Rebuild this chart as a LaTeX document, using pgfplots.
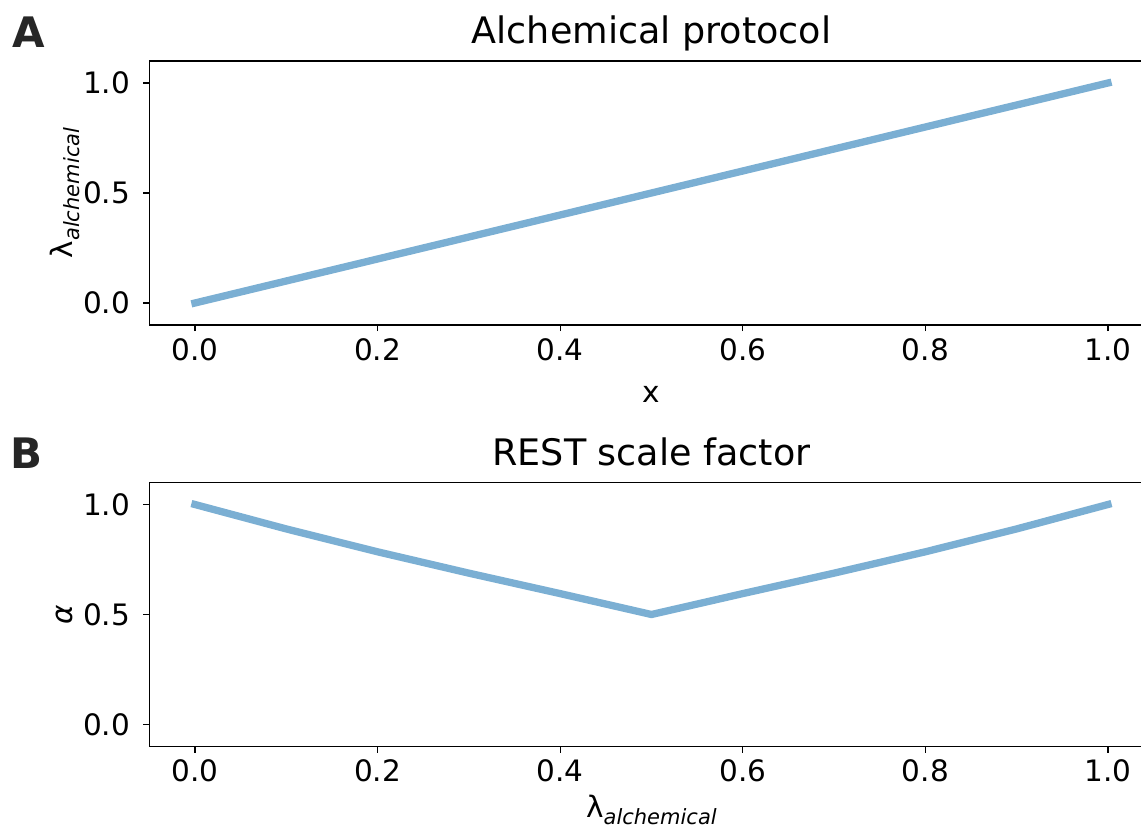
\documentclass[border=0pt]{standalone}
\usepackage{pgfplots}
\usepackage{pgfplotstable}
\pgfplotsset{compat=1.18}
\usepackage{fontspec}
\setmainfont{DejaVu Sans}
\definecolor{linec}{RGB}{123,175,211}
\definecolor{panel}{RGB}{38,38,38}
\newcommand{\fs}{\fontsize{29.5}{35}\selectfont}
\newcommand{\sub}[1]{\raisebox{-0.25em}{\fontsize{21}{25}\selectfont\itshape #1}}

\pgfplotstableread{
x y
0 0
1 1
}\tableA
\pgfplotstableread{
x y
0.0 1.0
0.1 0.889
0.2 0.785
0.3 0.688
0.4 0.595
0.5 0.5
0.6 0.595
0.7 0.688
0.8 0.785
0.9 0.889
1.0 1.0
}\tableB

\pgfplotsset{myax/.style={
  scale only axis, width=1004.3pt, height=264pt,
  xmin=-0.05, xmax=1.05, ymin=-0.1, ymax=1.1,
  xtick={0,0.2,0.4,0.6,0.8,1.0}, ytick={0,0.5,1.0},
  tick pos=left,
  tick align=outside, major tick length=6pt,
  every tick/.style={black, line width=1.3pt},
  axis line style={line width=1.3pt},
  /pgf/number format/assume math mode=true,
  /pgf/number format/fixed, /pgf/number format/fixed zerofill, /pgf/number format/precision=1,
  tick label style={font=\fs},
  xticklabel style={anchor=north, inner sep=0pt, yshift=-7pt},
  yticklabel style={anchor=east, inner sep=0pt, xshift=-13pt},
  every axis x label/.style={at={([yshift=-77pt]axis description cs:0.5,0)}, anchor=base, font=\fs},
  every axis y label/.style={at={([xshift=-77pt]axis description cs:0,0.5)}, rotate=90, anchor=base, font=\fs},
  title style={at={([yshift=11pt]axis description cs:0.5,1)}, anchor=base, font=\fontsize{36.5}{42}\selectfont},
}}

\begin{document}
\begin{tikzpicture}
\useasboundingbox (0,0) rectangle (1141pt,-829pt);
\begin{axis}[myax, at={(149.3pt,-61pt)}, anchor=north west,
  title={Alchemical protocol}, xlabel={x}, ylabel={λ\sub{alchemical}}]
\addplot[linec, line width=7.3pt, line cap=rect, line join=round] table[x=x,y=y] {\tableA};
\end{axis}
\begin{axis}[myax, at={(149.3pt,-482.5pt)}, anchor=north west,
  title={REST scale factor}, ylabel={\textit{α}},
  xlabel={λ\sub{alchemical}},
  every axis x label/.style={at={([yshift=-71pt]axis description cs:0.5,0)}, anchor=base, font=\fs}]
\addplot[linec, line width=7.3pt, line cap=rect, line join=round] table[x=x,y=y] {\tableB};
\end{axis}
\node[anchor=base west, inner sep=0pt, font=\fontsize{42}{50}\selectfont\bfseries, text=panel] at (12pt,-48pt) {A};
\node[anchor=base west, inner sep=0pt, font=\fontsize{42}{50}\selectfont\bfseries, text=panel] at (10pt,-468pt) {B};
\end{tikzpicture}
\end{document}
